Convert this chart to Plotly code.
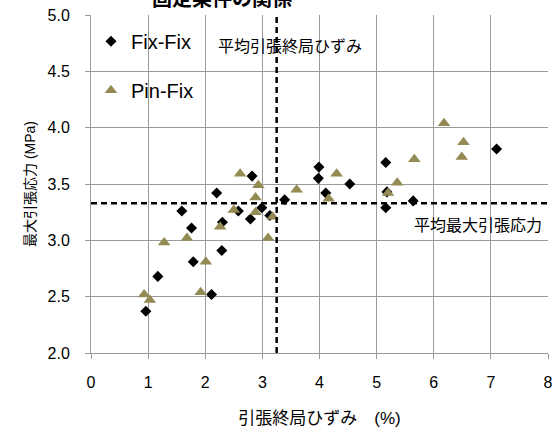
import plotly.graph_objects as go

# Fix-Fix specimens: ultimate tensile strain (%) vs. maximum tensile stress (MPa)
fix_strain = [2.82, 2.20, 1.59, 2.58, 2.99, 3.39, 2.79, 2.30, 1.76, 3.13, 2.29, 1.79,
              1.17, 2.11, 0.96, 3.99, 3.98, 4.11, 4.53, 5.16, 5.16, 5.64, 7.10, 5.18]
fix_stress = [3.57, 3.42, 3.26, 3.26, 3.29, 3.36, 3.19, 3.16, 3.11, 3.22, 2.91, 2.81,
              2.68, 2.52, 2.37, 3.65, 3.55, 3.42, 3.50, 3.69, 3.29, 3.35, 3.81, 3.43]

# Pin-Fix specimens
pin_strain = [2.61, 2.93, 2.88, 2.50, 2.88, 3.18, 2.26, 1.68, 1.28, 3.10, 2.01, 1.92,
              0.93, 1.03, 3.60, 4.30, 4.16, 5.20, 5.36, 5.66, 6.18, 6.52, 6.49]
pin_stress = [3.59, 3.49, 3.38, 3.27, 3.25, 3.21, 3.12, 3.02, 2.98, 3.02, 2.81, 2.54,
              2.52, 2.47, 3.45, 3.59, 3.37, 3.42, 3.51, 3.72, 4.04, 3.87, 3.74]

# Averages drawn as dashed reference lines
mean_strain = 3.25
mean_stress = 3.33

x_ticks = [0, 1, 2, 3, 4, 5, 6, 7, 8]
y_ticks = [2.0, 2.5, 3.0, 3.5, 4.0, 4.5, 5.0]
y_tick_text = ["2.0", "2.5", "3.0", "3.5", "4.0", "4.5", "5.0"]

FONT = "Liberation Sans, Arial, Noto Sans CJK JP, sans-serif"
GRID = "#9a9a9a"

fig = go.Figure()

fig.add_trace(go.Scatter(
    x=fix_strain, y=fix_stress, mode="markers", name="Fix-Fix",
    legendgroup="a",
    marker=dict(symbol="diamond", size=8.5, color="black"),
))
fig.add_trace(go.Scatter(
    x=pin_strain, y=pin_stress, mode="markers", name="Pin-Fix",
    legendgroup="b",
    marker=dict(symbol="triangle-up", size=11, color="#948A54"),
))

# average lines
fig.add_shape(type="line", xref="x", yref="y", x0=0, x1=8, y0=mean_stress, y1=mean_stress,
              line=dict(color="black", width=2.5, dash="6px,4px"))
fig.add_shape(type="line", xref="x", yref="y", x0=mean_strain, x1=mean_strain, y0=2, y1=5,
              line=dict(color="black", width=2.5, dash="6px,4px"))

fig.add_annotation(x=3.48, y=4.72, xref="x", yref="y", text="平均引張終局ひずみ",
                   showarrow=False, font=dict(family=FONT, size=16, color="black"))
fig.add_annotation(x=7.93, y=3.13, xref="x", yref="y", text="平均最大引張応力",
                   showarrow=False, xanchor="right", font=dict(family=FONT, size=16, color="black"))

# chart title (runs above the top edge of the page)
fig.add_annotation(x=0.287, y=1, xref="paper", yref="paper", text="<b>固定条件の関係</b>",
                   showarrow=False, xanchor="center", yanchor="bottom", yshift=3,
                   font=dict(family=FONT, size=20, color="black"))

fig.update_layout(
    width=560, height=433,
    margin=dict(l=91, r=12, t=15, b=80, autoexpand=False),
    paper_bgcolor="white", plot_bgcolor="white",
    font=dict(family=FONT, color="black"),
    showlegend=True,
    legend=dict(x=0.0, y=0.98, xanchor="left", yanchor="top", bgcolor="rgba(0,0,0,0)",
                font=dict(family=FONT, size=20, color="black"),
                tracegroupgap=20, traceorder="grouped", itemwidth=30),
    xaxis=dict(range=[0, 8], tickvals=x_ticks, showgrid=True, gridcolor=GRID, gridwidth=1,
               showline=True, linecolor=GRID, linewidth=1, ticks="outside", tickcolor=GRID,
               ticklen=5, tickfont=dict(size=16, color="black"), ticklabelstandoff=10,
               zeroline=False,
               title=dict(text="引張終局ひずみ　(%)", font=dict(size=17, color="black"),
                          standoff=21)),
    yaxis=dict(range=[2, 5], tickvals=y_ticks, ticktext=y_tick_text, showgrid=True,
               gridcolor=GRID, gridwidth=1, showline=True, linecolor=GRID, linewidth=1,
               ticks="outside", tickcolor=GRID, ticklen=5,
               tickfont=dict(size=16, color="black"), ticklabelstandoff=12, zeroline=False,
               title=dict(text="最大引張応力 (MPa)", font=dict(size=14, color="black"),
                          standoff=8)),
)

fig.write_html("out.html")
